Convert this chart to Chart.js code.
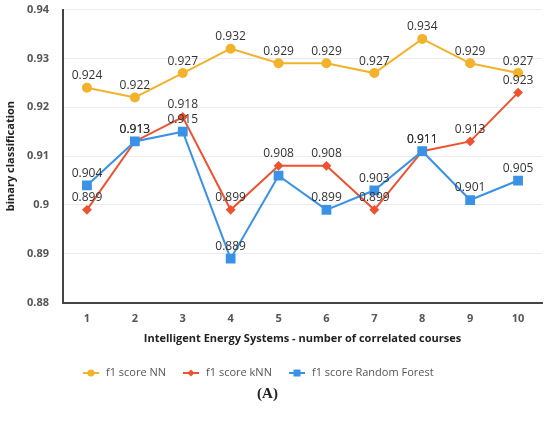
<!DOCTYPE html>
<html>
<head>
<meta charset="utf-8">
<script src="https://cdn.jsdelivr.net/npm/chart.js@4.4.0/dist/chart.umd.min.js"></script>
<style>
  html, body { margin:0; padding:0; background:#fff; }
  #wrap { position:relative; width:550px; height:422px; overflow:hidden; }
  #legend { position:absolute; left:83px; top:362px; white-space:nowrap;
            font:11px "Open Sans", sans-serif; color:#555; }
  #legend span.item { display:inline-block; margin-right:17px; vertical-align:middle; }
  #legend canvas { vertical-align:middle; margin-right:7px; }
  #caption { position:absolute; left:0; width:535px; top:385px; text-align:center;
             font:bold 15px "Liberation Serif", serif; color:#222; }
</style>
</head>
<body>
<div id="wrap">
  <canvas id="myChart" width="550" height="422"></canvas>
  <div id="legend"></div>
  <div id="caption">(A)</div>
</div>
<script>
// categories / values
var courses = ['1', '2', '3', '4', '5', '6', '7', '8', '9', '10'];
var f1NN  = [0.924, 0.922, 0.927, 0.932, 0.929, 0.929, 0.927, 0.934, 0.929, 0.927];
var f1kNN = [0.899, 0.913, 0.918, 0.899, 0.908, 0.908, 0.899, 0.911, 0.913, 0.923];
var f1RF  = [0.904, 0.913, 0.915, 0.889, 0.906, 0.899, 0.903, 0.911, 0.901, 0.905];
// the label of RF at course 5 is not shown in the figure
var rfHiddenLabels = [4];

var yellow = '#f3b22b';
var red = '#ef5230';
var blue = '#3a92e6';

// small line+marker icon for the legend
function legendIcon(color, style) {
    var c = document.createElement('canvas');
    c.width = 16; c.height = 10;
    var g = c.getContext('2d');
    g.strokeStyle = color; g.fillStyle = color; g.lineWidth = 2;
    g.beginPath(); g.moveTo(0, 5); g.lineTo(16, 5); g.stroke();
    g.beginPath();
    if (style == 'circle') { g.arc(8, 5, 3.5, 0, Math.PI * 2); }
    else if (style == 'rectRot') { g.moveTo(8, 1.5); g.lineTo(11.5, 5); g.lineTo(8, 8.5); g.lineTo(4.5, 5); g.closePath(); }
    else { g.rect(4.5, 1.5, 7, 7); }
    g.fill();
    return c;
}

// value labels above every point
var valueLabels = {
    id: 'valueLabels',
    afterDatasetsDraw: function(chart) {
        var ctx = chart.ctx;
        ctx.save();
        ctx.font = '12px "Open Sans", sans-serif';
        ctx.fillStyle = '#333';
        ctx.textAlign = 'center';
        ctx.textBaseline = 'middle';
        chart.data.datasets.forEach(function(ds, i) {
            var meta = chart.getDatasetMeta(i);
            meta.data.forEach(function(pt, j) {
                if (ds.label == 'f1 score Random Forest' && rfHiddenLabels.indexOf(j) >= 0) return;
                ctx.fillText(ds.data[j].toFixed(3), pt.x, pt.y - 12);
            });
        });
        ctx.restore();
    }
};

var tickFont = { family: '"Open Sans", sans-serif', size: 11, weight: 'bold' };

var ctx = document.getElementById('myChart').getContext('2d');
var chart = new Chart(ctx, {
    type: 'line',
    data: {
        labels: courses,
        datasets: [
            { label: 'f1 score NN', data: f1NN, borderColor: yellow, backgroundColor: yellow,
              borderWidth: 2, pointStyle: 'circle', pointRadius: 4, order: 2 },
            { label: 'f1 score kNN', data: f1kNN, borderColor: red, backgroundColor: red,
              borderWidth: 2, pointStyle: 'rectRot', pointRadius: 3.5, order: 1 },
            { label: 'f1 score Random Forest', data: f1RF, borderColor: blue, backgroundColor: blue,
              borderWidth: 2, pointStyle: 'rect', pointRadius: 5.5, order: 0 }
        ]
    },
    options: {
        responsive: false,
        animation: false,
        layout: { padding: { top: 0, right: 8, bottom: 77, left: 0 } },
        plugins: {
            tooltip: { enabled: false },
            legend: { display: false }
        },
        scales: {
            x: {
                grid: { display: false },
                border: { display: true, color: '#444', width: 2 },
                ticks: { color: '#555', font: tickFont, padding: 2 },
                title: { display: true, text: 'Intelligent Energy Systems - number of correlated courses',
                         color: '#222', font: tickFont, padding: { top: 4, bottom: 0 } },
                offset: true
            },
            y: {
                min: 0.88,
                max: 0.94,
                afterFit: function(s) { s.width = 63; },
                grid: { color: '#ececec', drawTicks: true, tickLength: 11, tickColor: 'rgba(0,0,0,0)' },
                border: { display: true, color: '#444', width: 2 },
                ticks: { stepSize: 0.01, color: '#555', font: tickFont, padding: 3,
                         callback: function(v) { return parseFloat(v.toFixed(2)).toString(); } },
                title: { display: true, text: 'binary classification', color: '#222', font: tickFont }
            }
        }
    },
    plugins: [valueLabels]
});

// html legend: line + marker, then the series name
var legendStyles = ['circle', 'rectRot', 'rect'];
var legendEl = document.getElementById('legend');
chart.data.datasets.forEach(function(ds, i) {
    var item = document.createElement('span');
    item.className = 'item';
    item.appendChild(legendIcon(ds.borderColor, legendStyles[i]));
    item.appendChild(document.createTextNode(ds.label));
    legendEl.appendChild(item);
});
</script>
</body>
</html>
